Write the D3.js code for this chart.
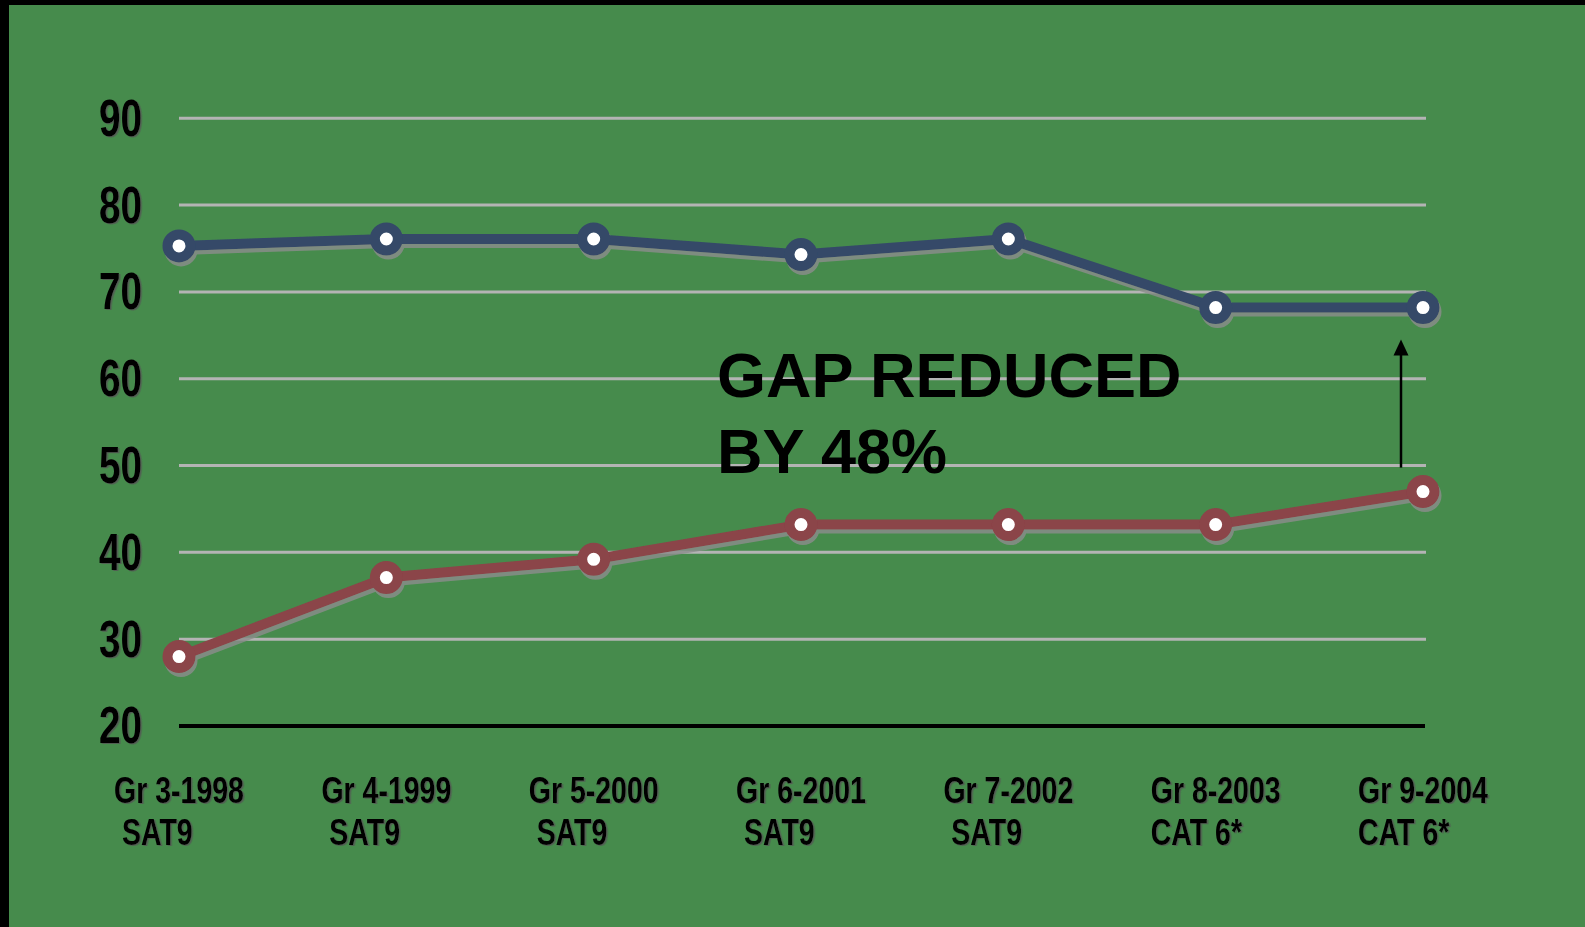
<!DOCTYPE html>
<html>
<head>
<meta charset="utf-8">
<script src="https://cdn.jsdelivr.net/npm/d3@7"></script>
<style>
  html, body { margin: 0; padding: 0; background: #000; }
  svg { display: block; }
</style>
</head>
<body>
<svg id="chart" width="1585" height="927"></svg>
<script>
// ---- data ----
const categoryLine1 = ["Gr 3-1998", "Gr 4-1999", "Gr 5-2000", "Gr 6-2001", "Gr 7-2002", "Gr 8-2003", "Gr 9-2004"];
const categoryLine2 = ["\u00a0SAT9", "\u00a0SAT9", "\u00a0SAT9", "\u00a0SAT9", "\u00a0SAT9", "CAT 6*", "CAT 6*"];
const upperSeries = [75.3, 76.1, 76.1, 74.3, 76.1, 68.2, 68.2];
const lowerSeries = [28.0, 37.1, 39.2, 43.2, 43.2, 43.2, 47.0];
const yTicks = [20, 30, 40, 50, 60, 70, 80, 90];
const annotationLines = ["GAP REDUCED", "BY 48%"];

// ---- setup ----
const W = 1585, H = 927;
const svg = d3.select("#chart");
const defs = svg.append("defs");
const f = defs.append("filter").attr("id", "shadow")
  .attr("x", "-10%").attr("y", "-10%").attr("width", "120%").attr("height", "130%");
f.append("feDropShadow").attr("dx", 2).attr("dy", 4).attr("stdDeviation", 0.6)
  .attr("flood-color", "#8c8c8c").attr("flood-opacity", 0.8);
const tf = defs.append("filter").attr("id", "tshadow");
tf.append("feDropShadow").attr("dx", 1.5).attr("dy", 1).attr("stdDeviation", 0.4)
  .attr("flood-color", "#555").attr("flood-opacity", 0.8);

svg.append("rect").attr("width", W).attr("height", H).attr("fill", "#000");
svg.append("rect").attr("x", 9).attr("y", 5).attr("width", W - 9).attr("height", H - 5).attr("fill", "#468B4C");

const categories = categoryLine1;
const x = d3.scalePoint().domain(categories).range([179, 1423]);
const y = d3.scaleLinear().domain([20, 90]).range([726, 118.3]);

const gridRight = 1426;

// gridlines
svg.append("g").selectAll("line").data(yTicks).join("line")
  .attr("x1", 179).attr("x2", d => d === 20 ? gridRight - 1 : gridRight)
  .attr("y1", d => y(d)).attr("y2", d => y(d))
  .attr("stroke", d => d === 20 ? "#000" : "#B4B4B4")
  .attr("stroke-width", d => d === 20 ? 4 : 3);

// y tick labels
const fontCond = "'Liberation Sans', Arial, sans-serif";
svg.append("g").attr("filter", "url(#tshadow)").selectAll("g").data(yTicks).join("g")
  .attr("transform", d => `translate(142,${y(d)}) scale(0.76,1)`)
  .append("text")
  .attr("text-anchor", "end").attr("dominant-baseline", "central")
  .attr("font-family", fontCond).attr("font-weight", "bold").attr("font-size", 51)
  .attr("fill", "#000")
  .text(d => d);

// x labels
const xl = svg.append("g").attr("filter", "url(#tshadow)");
const sx = 0.77;
categories.forEach((c, i) => {
  const g = xl.append("g").attr("transform", `translate(${x(c)},0) scale(${sx},1)`);
  const t1 = g.append("text").attr("x", 0).attr("y", 803)
    .attr("text-anchor", "middle")
    .attr("font-family", fontCond).attr("font-weight", "bold").attr("font-size", 37)
    .attr("fill", "#000").text(categoryLine1[i]);
  const w = t1.node().getComputedTextLength();
  g.append("text").attr("x", -w / 2).attr("y", 845)
    .attr("text-anchor", "start")
    .attr("font-family", fontCond).attr("font-weight", "bold").attr("font-size", 37)
    .attr("fill", "#000").text(categoryLine2[i]);
});

// series
const line = d3.line().x((d, i) => x(categories[i])).y(d => y(d));
const seriesDefs = [
  { values: upperSeries, color: "#344A68" },
  { values: lowerSeries, color: "#8B4448" }
];
seriesDefs.forEach(s => {
  const g = svg.append("g").attr("filter", "url(#shadow)");
  g.append("path").datum(s.values).attr("d", line)
    .attr("fill", "none").attr("stroke", s.color).attr("stroke-width", 10)
    .attr("stroke-linejoin", "round");
  g.selectAll("circle").data(s.values).join("circle")
    .attr("cx", (d, i) => x(categories[i])).attr("cy", d => y(d))
    .attr("r", 11.5).attr("fill", "#fff").attr("stroke", s.color).attr("stroke-width", 10);
});

// arrow
const lastCat = categories[categories.length - 1];
const ax = x(lastCat) - 22;
const aBottom = y(lowerSeries[lowerSeries.length - 1]) - 24;
const aTip = y(upperSeries[upperSeries.length - 1]) + 32;
svg.append("line").attr("x1", ax).attr("x2", ax).attr("y1", aBottom).attr("y2", aTip + 14)
  .attr("stroke", "#000").attr("stroke-width", 2.5);
svg.append("path")
  .attr("d", `M${ax},${aTip} L${ax - 7.5},${aTip + 16} L${ax + 7.5},${aTip + 16} Z`)
  .attr("fill", "#000");

// annotation
svg.append("g").selectAll("text").data(annotationLines).join("text")
  .attr("x", 717).attr("y", (d, i) => 397 + i * 76)
  .attr("font-family", "'Liberation Sans', Arial, sans-serif").attr("font-weight", "bold")
  .attr("font-size", 63).attr("fill", "#000")
  .text(d => d);
</script>
</body>
</html>
